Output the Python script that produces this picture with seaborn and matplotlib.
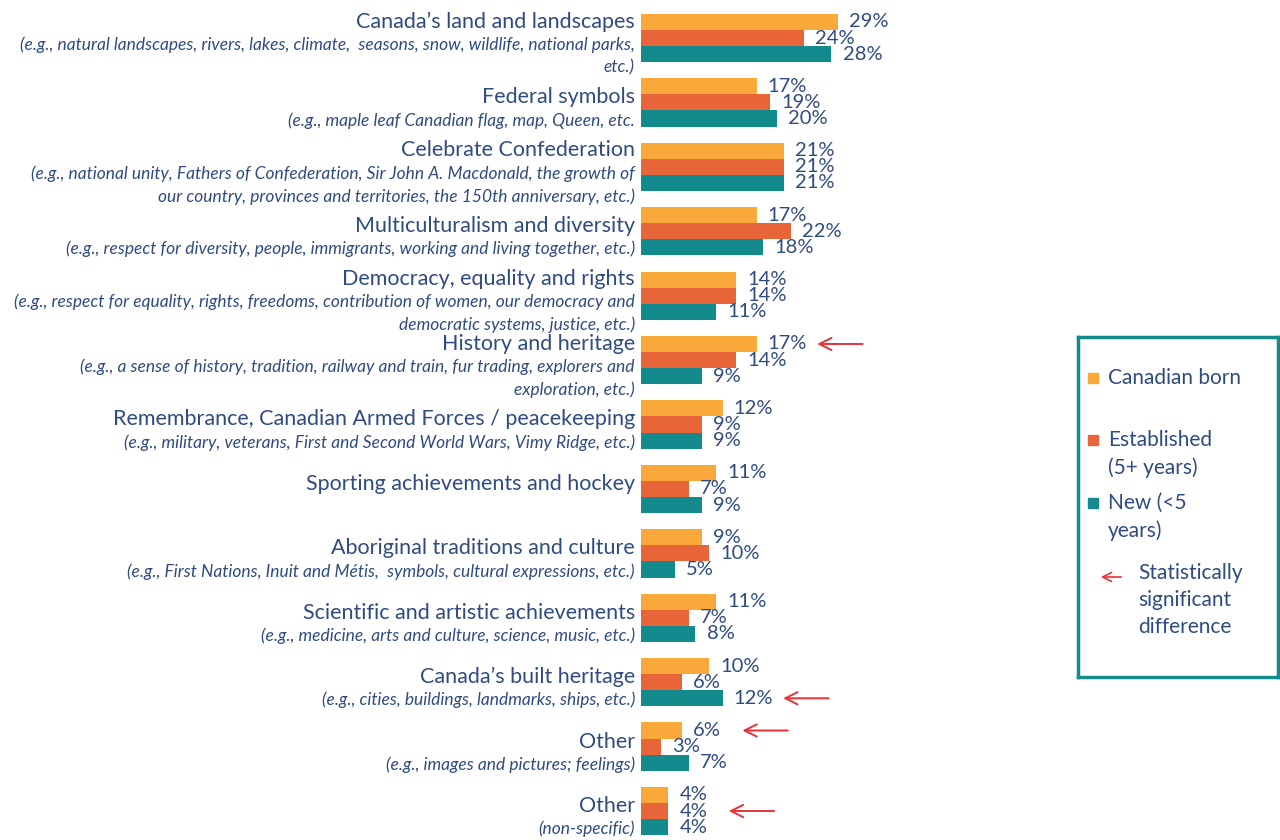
import matplotlib
matplotlib.use("Agg")
import matplotlib.pyplot as plt
import seaborn as sns
import pandas as pd
from matplotlib.patches import Rectangle

# categories (title line + italic detail lines)
titles = [
    "Canada’s land and landscapes",
    "Federal symbols",
    "Celebrate Confederation",
    "Multiculturalism and diversity",
    "Democracy, equality and rights",
    "History and heritage",
    "Remembrance, Canadian Armed Forces / peacekeeping",
    "Sporting achievements and hockey",
    "Aboriginal traditions and culture",
    "Scientific and artistic achievements",
    "Canada’s built heritage",
    "Other",
    "Other",
]
details = [
    "(e.g., natural landscapes, rivers, lakes, climate,  seasons, snow, wildlife, national parks,\netc.)",
    "(e.g., maple leaf Canadian flag, map, Queen, etc.",
    "(e.g., national unity, Fathers of Confederation, Sir John A. Macdonald, the growth of\nour country, provinces and territories, the 150th anniversary, etc.)",
    "(e.g., respect for diversity, people, immigrants, working and living together, etc.)",
    "(e.g., respect for equality, rights, freedoms, contribution of women, our democracy and\ndemocratic systems, justice, etc.)",
    "(e.g., a sense of history, tradition, railway and train, fur trading, explorers and\nexploration, etc.)",
    "(e.g., military, veterans, First and Second World Wars, Vimy Ridge, etc.)",
    "",
    "(e.g., First Nations, Inuit and Métis,  symbols, cultural expressions, etc.)",
    "(e.g., medicine, arts and culture, science, music, etc.)",
    "(e.g., cities, buildings, landmarks, ships, etc.)",
    "(e.g., images and pictures; feelings)",
    "(non-specific)",
]

groups = ["Canadian born", "Established (5+ years)", "New (<5 years)"]
legend_labels = ["Canadian born", "Established\n(5+ years)", "New (<5\nyears)"]
canadian_born = [29, 17, 21, 17, 14, 17, 12, 11, 9, 11, 10, 6, 4]
established = [24, 19, 21, 22, 14, 14, 9, 7, 10, 7, 6, 3, 4]
new_arrivals = [28, 20, 21, 18, 11, 9, 9, 9, 5, 8, 12, 7, 4]

# statistically significant differences: (row, series)
sig_rows = [5, 10, 11, 12]
sig_series = [0, 2, 0, 1]

colors = ["#FAA83A", "#E8653A", "#138A8C"]
text_col = "#2F4B80"
arrow_col = "#E8323A"

rows = [str(i) for i in range(len(titles))]
df = pd.DataFrame({
    "row": rows * 3,
    "group": [g for g in groups for _ in rows],
    "value": canadian_born + established + new_arrivals,
})

sns.set_theme(style="white")
plt.rcParams["font.family"] = ["Lato", "DejaVu Sans"]

fig = plt.figure(figsize=(12.8, 8.4), dpi=100)
ax_w_px = 460
ax = fig.add_axes([641 / 1280, 0, ax_w_px / 1280, (840 - 5.8) / 840])
px_per_unit = 6.8

sns.barplot(data=df, x="value", y="row", hue="group", order=rows,
            hue_order=groups, palette=colors, width=0.75, orient="h",
            linewidth=0, saturation=1, legend=False, ax=ax)

ax.set_xlim(0, ax_w_px / px_per_unit)
ax.set_ylim(12.45, -0.5)
for s in ax.spines.values():
    s.set_visible(False)
ax.set_xticks([])
ax.set_yticks([])
ax.set_xlabel("")
ax.set_ylabel("")

for c in ax.containers:
    ax.bar_label(c, fmt="%d%%", padding=8, fontsize=14.5, color=text_col)

# category labels
trans = ax.get_yaxis_transform()
xlab = -6 / ax_w_px
step = 0.357
for i, (t, d) in enumerate(zip(titles, details)):
    lines = d.split("\n")
    n = 1 + len(lines)
    y0 = i + 0.1 - (n - 1) / 2 * step
    ax.text(xlab, y0, t, transform=trans, ha="right", va="center",
            fontsize=15.5, color=text_col)
    for k, ln in enumerate(lines):
        ax.text(xlab, y0 + (k + 1) * step, ln, transform=trans, ha="right",
                va="center", fontsize=12.5, style="italic", color=text_col)

# significance arrows
series_vals = [canadian_born, established, new_arrivals]
bw = 0.75 / 3
for r, s in zip(sig_rows, sig_series):
    v = series_vals[s][r]
    y = r + (s - 1) * bw
    ax.annotate("", xy=(v + 8.5, y), xytext=(v + 16, y),
                arrowprops=dict(arrowstyle="->", color=arrow_col, lw=1.4,
                                mutation_scale=22),
                annotation_clip=False)

# legend box
lax = fig.add_axes([1078 / 1280, (840 - 677) / 840, 200 / 1280, 340 / 840])
lax.set_xlim(0, 200)
lax.set_ylim(340, 0)
lax.set_xticks([])
lax.set_yticks([])
for s in lax.spines.values():
    s.set_color("#138A8C")
    s.set_linewidth(2.5)
entry_y = [41, 103, 166]
for col, lab, y in zip(colors, legend_labels, entry_y):
    lax.add_patch(Rectangle((10, y - 5), 10, 10, color=col))
    nl = lab.count("\n")
    lax.text(30, y + nl * 14, lab, ha="left", va="center", fontsize=15,
             color=text_col, linespacing=1.45)
lax.annotate("", xy=(20, 240), xytext=(46, 240),
             arrowprops=dict(arrowstyle="->", color=arrow_col, lw=1.2,
                             mutation_scale=16))
lax.text(60, 263, "Statistically\nsignificant\ndifference", ha="left",
         va="center", fontsize=15, color=text_col, linespacing=1.45)

fig.savefig("out.png", dpi=100)
